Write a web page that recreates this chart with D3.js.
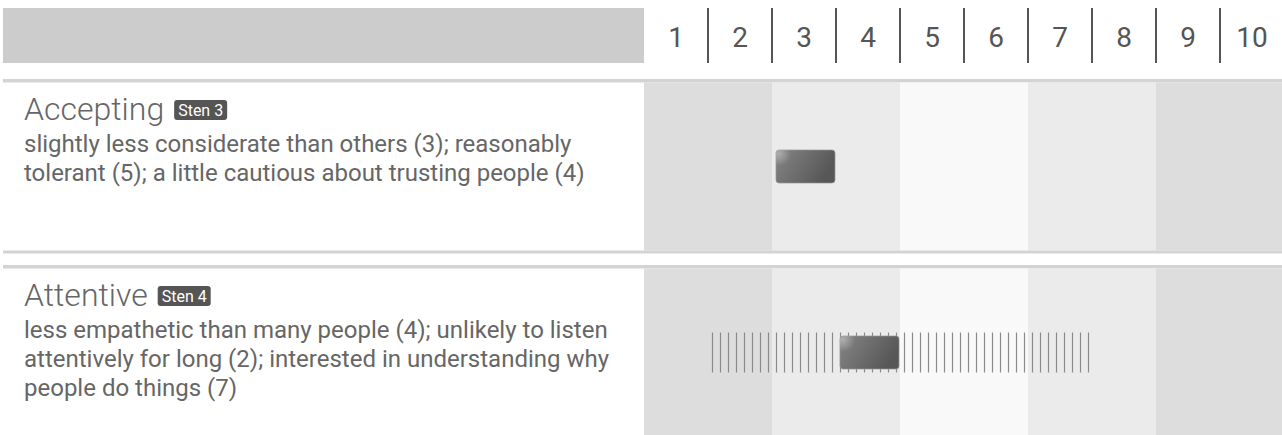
<!DOCTYPE html>
<html><head><meta charset="utf-8">
<script src="https://cdn.jsdelivr.net/npm/d3@7/dist/d3.min.js"></script>
<style>
body{margin:0;background:#fff;}
svg{display:block;font-family:Roboto,"Noto Sans",sans-serif;}
</style>
</head><body>
<svg id="c" width="1282" height="435"></svg>
<script>
// ---- data ----
const stenLevels = [1,2,3,4,5,6,7,8,9,10];
const bandGroups = [[1,2],[3,4],[5,6],[7,8],[9,10]];
const bandShades = ["#dddddd","#ebebeb","#f9f9f9","#ebebeb","#dddddd"];
const traitNames = ["Accepting","Attentive"];
const traitStens = [3,4];
const traitLines = [
  ["slightly less considerate than others (3); reasonably",
   "tolerant (5); a little cautious about trusting people (4)"],
  ["less empathetic than many people (4); unlikely to listen",
   "attentively for long (2); interested in understanding why",
   "people do things (7)"]
];
const rangeLow  = [null, 2];
const rangeHigh = [null, 7];

// ---- layout ----
const W = 1282, H = 435;
const svg = d3.select("#c");
const x = d3.scaleBand().domain(stenLevels).range([644, 1284]);
const y = d3.scaleBand().domain(traitNames).range([79, 79 + 186*2]);
const rowLine = 3.5, bandH = 168;

const defs = svg.append("defs");
const lg = defs.append("linearGradient").attr("id","barGrad").attr("x1","0").attr("y1","0").attr("x2","1").attr("y2","0.35");
lg.append("stop").attr("offset","0").attr("stop-color","#858585");
lg.append("stop").attr("offset","0.55").attr("stop-color","#6c6c6c");
lg.append("stop").attr("offset","1").attr("stop-color","#575757");
const rg = defs.append("radialGradient").attr("id","barGlow").attr("cx","0.08").attr("cy","0.12").attr("r","0.35")
  .attr("gradientTransform","scale(0.6,1)");
rg.append("stop").attr("offset","0").attr("stop-color","#ffffff").attr("stop-opacity","0.35");
rg.append("stop").attr("offset","1").attr("stop-color","#ffffff").attr("stop-opacity","0");

// header
svg.append("rect").attr("x",3).attr("y",8).attr("width",x(1)-3).attr("height",55).attr("fill","#cccccc");
svg.append("g").selectAll("text").data(stenLevels).join("text")
  .attr("x", d => x(d) + x.bandwidth()/2).attr("y", 47)
  .attr("text-anchor","middle").attr("font-size",28).attr("fill","#555555")
  .text(d => d);
svg.append("g").selectAll("line").data(stenLevels.slice(1)).join("line")
  .attr("x1", d => x(d)).attr("x2", d => x(d)).attr("y1", 8).attr("y2", 63)
  .attr("stroke","#555555").attr("stroke-width",2);

// rows
traitNames.forEach((name, i) => {
  const top = y(name);
  const g = svg.append("g");
  g.append("rect").attr("x",3).attr("y",top).attr("width",W-3).attr("height",rowLine).attr("fill","#d3d3d3");
  const bTop = top + rowLine;
  g.selectAll("rect.band").data(bandGroups).join("rect").attr("class","band")
    .attr("x", d => x(d[0])).attr("y", bTop)
    .attr("width", d => x(d[d.length-1]) + x.bandwidth() - x(d[0])).attr("height", bandH)
    .attr("fill", (d,k) => bandShades[k]);
  g.append("rect").attr("x",3).attr("y",bTop+bandH).attr("width",W-3).attr("height",3).attr("fill","#d3d3d3");

  const cy = bTop + bandH/2;
  // range ticks
  if (rangeLow[i] != null) {
    const x0 = x(rangeLow[i]) + 4, x1 = x(rangeHigh[i]) + x.bandwidth() - 4;
    g.selectAll("line.tk").data(d3.range(x0, x1 + 0.1, 8)).join("line").attr("class","tk")
      .attr("x1", d => Math.round(d)+0.5).attr("x2", d => Math.round(d)+0.5)
      .attr("y1", cy - 20).attr("y2", cy + 20)
      .attr("stroke","#8a8a8a").attr("stroke-width",1.2);
  }
  // bar
  const bx = x(traitStens[i]) + 4, bw = x.bandwidth() - 5;
  g.append("rect").attr("x",bx).attr("y",cy-16.5).attr("width",bw).attr("height",33)
    .attr("rx",3).attr("fill","url(#barGrad)").attr("stroke","rgba(150,150,150,0.7)").attr("stroke-width",1);
  g.append("rect").attr("x",bx).attr("y",cy-16.5).attr("width",bw).attr("height",33)
    .attr("rx",3).attr("fill","url(#barGlow)");

  // texts
  const t = g.append("text").attr("x",24).attr("y",top+41).attr("font-size",32).attr("font-weight",300)
    .attr("fill","#666666").text(name);
  const tw = t.node().getComputedTextLength();
  const bxx = 24 + tw + 10;
  const bt = g.append("text").attr("x",bxx+4).attr("y",top+36.5).attr("font-size",16).attr("fill","#ffffff")
    .text("Sten " + traitStens[i]);
  const btw = bt.node().getComputedTextLength();
  g.append("rect").attr("x",bxx).attr("y",top+21).attr("width",btw+8).attr("height",20)
    .attr("rx",3).attr("fill","#555555");
  bt.raise();
  g.selectAll("text.desc").data(traitLines[i]).join("text").attr("class","desc")
    .attr("x",24).attr("y",(d,k) => top + 72.5 + k*29).attr("font-size",24).attr("fill","#666666")
    .text(d => d);
});
</script>
</body></html>
